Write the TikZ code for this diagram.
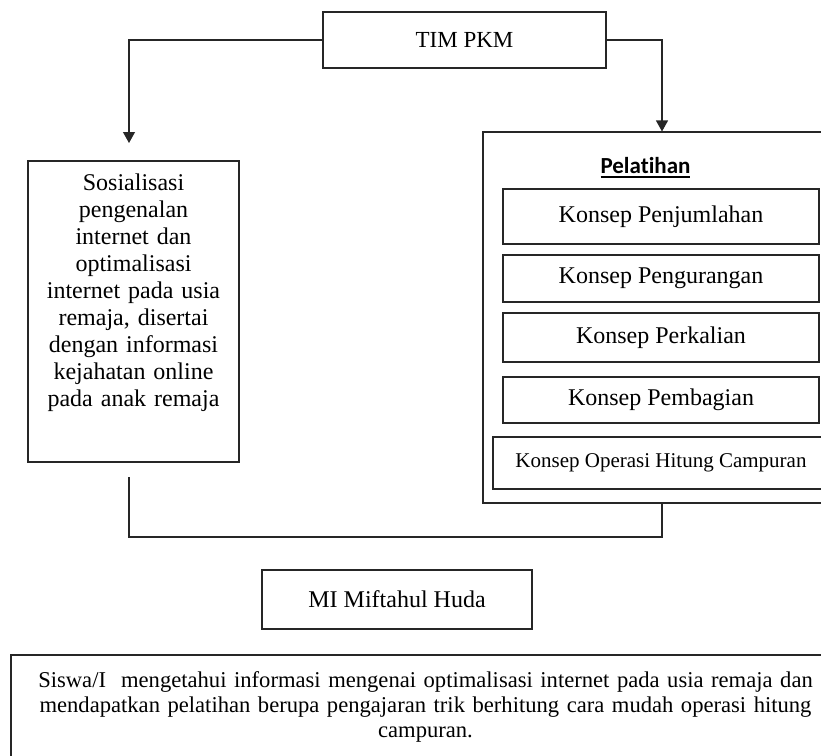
\documentclass[tikz,border=0pt]{standalone}
\usepackage{fontspec}
\setmainfont{Liberation Serif}
\newfontfamily\calibri[Ligatures=NoCommon]{Carlito}
\usetikzlibrary{arrows.meta}
\newcommand{\ulined}[1]{\vtop{\hbox{#1}\kern3pt\hrule height1.5pt}}

\begin{document}
\begin{tikzpicture}[
    x=1pt, y=-1pt,
    box/.style={draw=black!85, line width=1.1pt, inner sep=0pt, align=center},
    link/.style={draw=black!85, line width=1.1pt},
    arr/.style={link, -{Triangle[width=12pt,length=11pt]}},
    big/.style={font=\fontsize{24}{27}\selectfont},
    konsep/.style={box, big, minimum width=316}
  ]
  \useasboundingbox (0,0) rectangle (821,755);
  \clip (0,0) rectangle (821,755);

  \node[box, font=\fontsize{23}{26}\selectfont, minimum width=283, minimum height=56] (tim) at (464.5,40) {TIM PKM};

  % left branch
  \node[box, big, text width=205, minimum width=211, minimum height=301] (sos) at (133.5,311.5)
    {Sosialisasi\\ pengenalan\\ internet dan\\ optimalisasi\\ internet pada usia\\ remaja, disertai\\ dengan informasi\\ kejahatan online\\ pada anak remaja\\[16pt]\mbox{}};
  \coordinate (sosin) at (129,143);
  \coordinate (sosout) at (129,477);
  \coordinate (low) at (129,537);

  % right branch
  \node[box, minimum width=358, minimum height=371] (pel) at (662,317.5) {};
  \node[font=\calibri\bfseries\fontsize{23}{26}\selectfont, anchor=base] (judul) at (645.5,173) {\ulined{Pelatihan}};
  \node[konsep, minimum height=55] (tambah) at (661,216.5) {Konsep Penjumlahan};
  \node[konsep, minimum height=47] (kurang) at (661,278.5) {Konsep Pengurangan};
  \node[konsep, minimum height=49] (kali) at (661,337.5) {Konsep Perkalian};
  \node[konsep, minimum height=46] (bagi) at (661,400) {Konsep Pembagian};
  \node[box, font=\fontsize{21}{24}\selectfont, minimum width=336, minimum height=52] (campur) at (661,463) {Konsep Operasi Hitung Campuran};

  \draw[arr] (tim.west) -| (sosin);
  \draw[arr] (tim.east) -| (pel.north);
  \draw[link] (sosout) -- (low) -| (pel.south);

  \node[box, font=\fontsize{24}{27}\selectfont, minimum width=270, minimum height=59] (mi) at (397,599.5) {MI Miftahul Huda};

  \node[box, font=\fontsize{22.6}{25}\selectfont, text width=815, minimum width=829, minimum height=104] (hasil) at (425.5,707)
    {Siswa/I~ mengetahui informasi mengenai optimalisasi internet pada usia remaja dan\\
     mendapatkan pelatihan berupa pengajaran trik berhitung cara mudah operasi hitung\\
     campuran.};
\end{tikzpicture}
\end{document}
